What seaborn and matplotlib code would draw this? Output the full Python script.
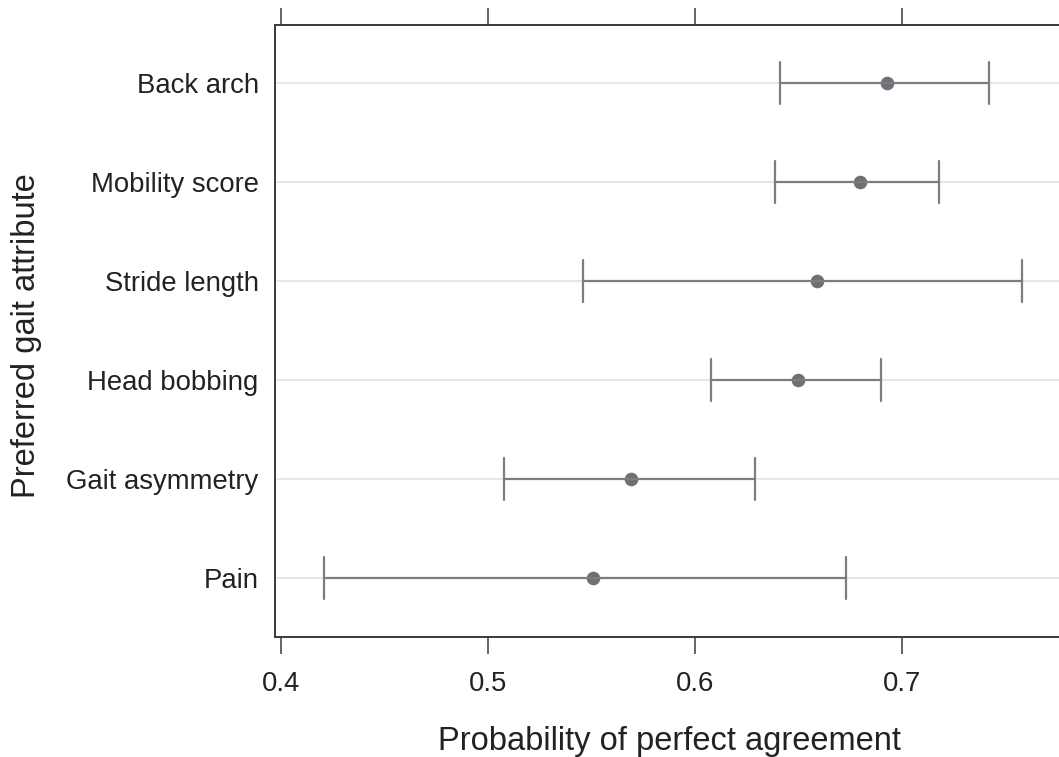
import matplotlib
matplotlib.use("Agg")
import matplotlib.pyplot as plt
import numpy as np
import pandas as pd
import seaborn as sns

# ---- data ----
attributes = ["Back arch", "Mobility score", "Stride length",
              "Head bobbing", "Gait asymmetry", "Pain"]
estimate = [0.693, 0.680, 0.659, 0.650, 0.569, 0.551]
ci_low = [0.641, 0.639, 0.546, 0.608, 0.508, 0.421]
ci_high = [0.742, 0.718, 0.758, 0.690, 0.629, 0.673]
x_ticks = [0.4, 0.5, 0.6, 0.7]
x_label = "Probability of perfect agreement"
y_label = "Preferred gait attribute"

# long table: each attribute has its lower bound, estimate, upper bound
rows = []
for a, lo, est, hi in zip(attributes, ci_low, estimate, ci_high):
    for v in (lo, est, hi):
        rows.append({"attribute": a, "value": v})
df = pd.DataFrame(rows)

sns.set_theme(style="white")
plt.rcParams["font.family"] = ["Liberation Sans", "DejaVu Sans"]

W, H = 1059, 757
fig = plt.figure(figsize=(W / 100, H / 100), dpi=100)

ax_left_px, ax_top_px, ax_bottom_px = 275.3, 25.0, 637.3
xmin, xmax = 0.3974, 0.80
px_per_unit = 2070.0
ax_w_px = (xmax - xmin) * px_per_unit
ax = fig.add_axes([ax_left_px / W, 1 - ax_bottom_px / H,
                   ax_w_px / W, (ax_bottom_px - ax_top_px) / H])

err_color = "#7d7d7d"
dot_color = "#6d7075"

sns.pointplot(
    data=df, x="value", y="attribute", order=attributes,
    estimator="median",
    errorbar=lambda v: (np.min(v), np.max(v)),
    capsize=0.42, color=err_color, linestyle="none",
    marker="o", markersize=9.8, markeredgewidth=0,
    err_kws={"linewidth": 1.6, "color": err_color},
    ax=ax, zorder=3,
)
for line in ax.lines:
    if line.get_marker() == "o":
        line.set_color(dot_color)
        line.set_markerfacecolor(dot_color)

ax.set_xlim(xmin, xmax)
ax.set_ylim(5.6, -0.586)
ax.set_xticks(x_ticks)
ax.set_xticklabels([f"{t:.1f}" for t in x_ticks])
ax.set_xlabel("")
ax.set_ylabel("")

ax.grid(axis="y", color="#e3e3e3", linewidth=1.2, zorder=0)
ax.grid(axis="x", visible=False)
ax.set_axisbelow(True)

spine_color = "#3a3a3a"
for s in ax.spines.values():
    s.set_color(spine_color)
    s.set_linewidth(1.4)

ax.tick_params(axis="x", which="both", bottom=True, top=True,
               labeltop=False, direction="out", length=12.2, width=1.1,
               color=spine_color, labelsize=19.8, labelcolor="#222222",
               pad=12)
ax.tick_params(axis="y", length=0, labelsize=19.8, labelcolor="#222222",
               pad=12)

fig.text(669 / W, 1 - 750 / H, x_label, ha="center", va="baseline",
         fontsize=23.5, color="#222222")
fig.text(27 / W, 1 - 336 / H, y_label, ha="center", va="center",
         rotation=90, fontsize=23.5, color="#222222")

fig.savefig("out.png", dpi=100)
